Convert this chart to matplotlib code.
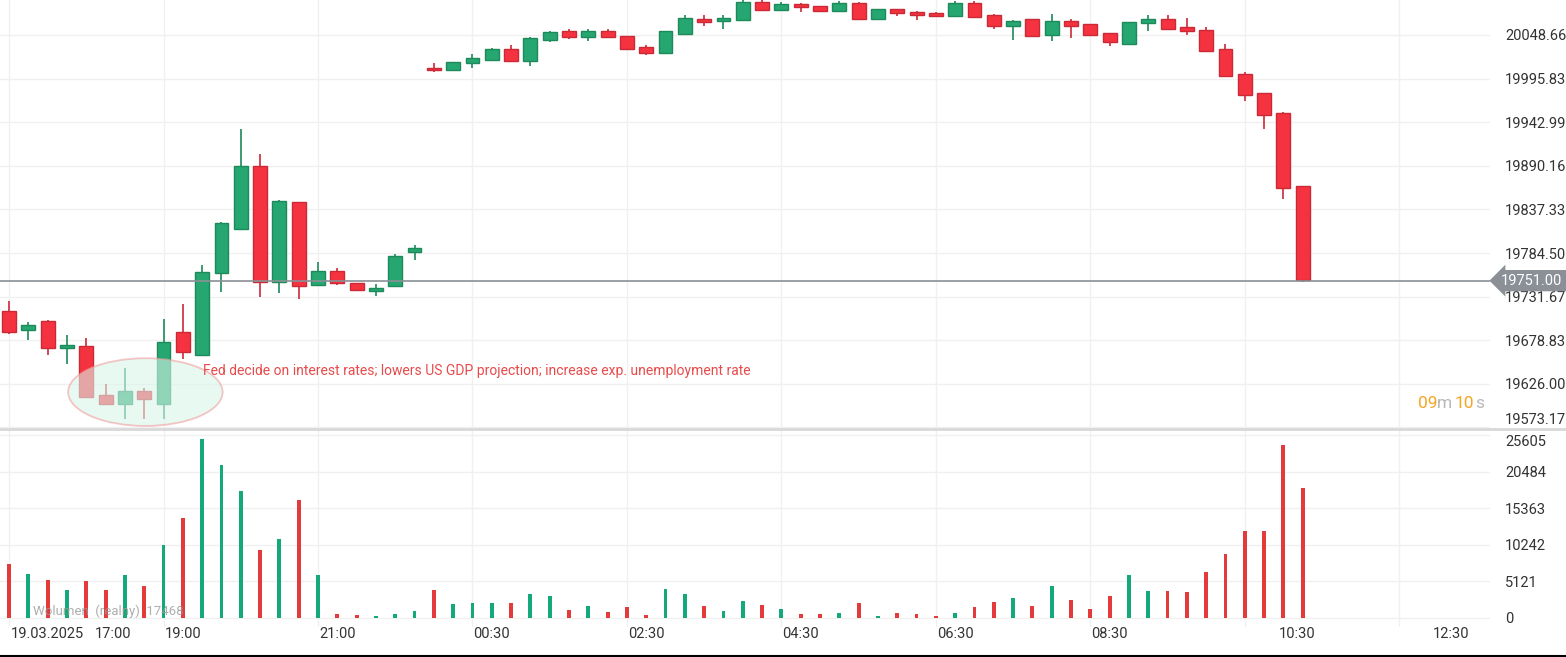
import numpy as np
import matplotlib
matplotlib.use("Agg")
import matplotlib.pyplot as plt
from matplotlib.patches import Ellipse, Rectangle

plt.rcParams["font.family"] = ["Roboto", "DejaVu Sans"]

# =========================
# Data (15 min candles, 19.03.2025 16:45 -> 20.03.2025 10:45)
# =========================
opens = [19714, 19691, 19702, 19669, 19672, 19612, 19601, 19617, 19601, 19689,
         19661, 19760, 19814, 19890, 19749, 19846, 19746, 19763, 19748, 19738,
         19744, 19786, 20009, 20006, 20015, 20018, 20032, 20017, 20043, 20053,
         20046, 20053, 20047, 20034, 20027, 20050, 20068, 20066, 20067, 20089,
         20079, 20086, 20084, 20078, 20087, 20068, 20080, 20076, 20075, 20072,
         20087, 20073, 20059, 20068, 20049, 20066, 20062, 20051, 20038, 20063,
         20068, 20058, 20055, 20032, 20001, 19978, 19954, 19866]
closes = [19689, 19697, 19670, 19673, 19610, 19601, 19617, 19608, 19677, 19664,
          19761, 19821, 19890, 19749, 19847, 19744, 19763, 19748, 19740, 19742,
          19781, 19790, 20006, 20016, 20021, 20032, 20017, 20045, 20052, 20046,
          20053, 20046, 20032, 20027, 20053, 20069, 20064, 20069, 20089, 20079,
          20086, 20082, 20078, 20087, 20068, 20080, 20075, 20073, 20072, 20087,
          20070, 20059, 20066, 20047, 20066, 20059, 20049, 20040, 20064, 20068,
          20056, 20053, 20029, 19999, 19976, 19952, 19863, 19752]
highs = [19726, 19701, 19703, 19685, 19681, 19626, 19645, 19621, 19704, 19723,
         19770, 19822, 19935, 19904, 19849, 19846, 19774, 19766, 19748, 19747,
         19783, 19794, 20015, 20016, 20026, 20033, 20036, 20046, 20053, 20056,
         20056, 20056, 20047, 20036, 20053, 20073, 20073, 20073, 20091, 20091,
         20089, 20087, 20084, 20090, 20089, 20080, 20080, 20078, 20076, 20090,
         20090, 20074, 20067, 20068, 20074, 20068, 20062, 20051, 20064, 20073,
         20073, 20069, 20058, 20038, 20004, 19978, 19955, 19866]
lows = [19686, 19679, 19661, 19650, 19609, 19600, 19584, 19583, 19583, 19656,
        19661, 19737, 19814, 19731, 19736, 19729, 19746, 19746, 19738, 19733,
        19744, 19776, 20004, 20006, 20009, 20018, 20017, 20011, 20040, 20044,
        20041, 20046, 20032, 20024, 20027, 20049, 20059, 20056, 20067, 20079,
        20078, 20076, 20078, 20076, 20068, 20068, 20072, 20067, 20070, 20072,
        20070, 20056, 20043, 20047, 20041, 20045, 20047, 20035, 20038, 20053,
        20056, 20049, 20029, 19999, 19969, 19935, 19850, 19749]
volumes = [7540, 6120, 5270, 3840, 5120, 3840, 5980, 4410, 10240, 13950,
           25040, 21350, 17790, 9530, 11100, 16500, 5980, 600, 400, 300,
           500, 900, 3840, 2000, 2100, 2100, 2100, 3300, 3000, 1140,
           1700, 850, 1560, 400, 4100, 3300, 1700, 1000, 2400, 1850,
           1280, 570, 570, 700, 2130, 300, 700, 570, 300, 700,
           1560, 2280, 2850, 1700, 4410, 2560, 1280, 3000, 5980, 3700,
           3700, 3560, 6400, 8960, 12100, 12100, 24200, 18200]

price_ticks = [19573.17, 19626.00, 19678.83, 19731.67, 19784.50, 19837.33,
               19890.16, 19942.99, 19995.83, 20048.66]
volume_ticks = [0, 5121, 10242, 15363, 20484, 25605]
time_labels = ["19.03.2025", "17:00", "19:00", "21:00", "00:30", "02:30",
               "04:30", "06:30", "08:30", "10:30", "12:30"]
time_label_pos = [1.97, 5.4, 9.0, 17.0, 25.0, 33.0, 41.0, 49.0, 57.0, 66.7, 74.7]
last_price = 19751.00
volume_last = 17468

GREEN = "#26a671"
GREEN_EDGE = "#1d8a5c"
RED = "#f5323f"
RED_EDGE = "#c92a36"
VOL_GREEN = "#14a97a"
VOL_RED = "#e33b3b"
GRID = "#f0f0f0"
TXT = "#333333"

W, H = 1566, 657
fig = plt.figure(figsize=(W / 100, H / 100), dpi=100)
ax = fig.add_axes([0, 1 - 428 / H, 1490 / W, 428 / H])
axv = fig.add_axes([0, 1 - 627 / H, 1490 / W, 199 / H])

xmin, xmax = -0.47, 76.7
n = len(opens)
idx = np.arange(n)

for a in (ax, axv):
    a.set_xlim(xmin, xmax)
    for s in a.spines.values():
        s.set_visible(False)
    a.set_xticks([])
    a.tick_params(axis="y", length=0, labelsize=10.5, labelcolor=TXT, pad=11)
    a.yaxis.tick_right()
    for gx in range(0, 80, 8):
        a.axvline(gx, color=GRID, lw=1, zorder=0)

# candles
ax.set_ylim(19572.5, 20091)
for i in idx:
    up = closes[i] >= opens[i]
    fc = GREEN if up else RED
    ec = GREEN_EDGE if up else RED_EDGE
    ax.vlines(i, lows[i], highs[i], color=ec, lw=1.2, zorder=2)
    lo, hi = min(opens[i], closes[i]), max(opens[i], closes[i])
    ax.add_patch(Rectangle((i - 0.36, lo), 0.72, max(hi - lo, 1.5),
                           facecolor=fc, edgecolor=ec, lw=1, zorder=3))
ax.set_yticks(price_ticks)
ax.set_yticklabels([f"{t:.2f}" for t in price_ticks])
ax.get_yticklabels()[0].set_va("bottom")
for t in price_ticks:
    ax.axhline(t, color=GRID, lw=1, zorder=0)

# last price line + tag
ax.axhline(last_price, color="#8a9096", lw=1.2, zorder=4)
ax.annotate(f"{last_price:.2f}", xy=(1.0, last_price), xycoords=("axes fraction", "data"),
            xytext=(8, 0), textcoords="offset points", ha="left", va="center",
            fontsize=10.5, color="white", annotation_clip=False,
            bbox=dict(boxstyle="larrow,pad=0.25", fc="#8a9096", ec="none"))

# Fed annotation
ell = Ellipse((7.06, 19616), 8.0, 82, facecolor="#d9f5ea", edgecolor="#f0a0a0",
              alpha=0.6, lw=1.3, zorder=5)
ax.add_patch(ell)
ax.text(10.05, 19641.5, "Fed decide on interest rates; lowers US GDP projection; "
        "increase exp. unemployment rate", color="#e84a4a", fontsize=10,
        ha="left", va="center", zorder=6)

# countdown
fig.text(1418 / W, 1 - 403 / H, "09", color="#f5a623", fontsize=12.5, va="center")
fig.text(1437 / W, 1 - 403 / H, "m", color="#b8b8b8", fontsize=12.5, va="center")
fig.text(1455 / W, 1 - 403 / H, "10", color="#f5a623", fontsize=12.5, va="center")
fig.text(1475 / W, 1 - 403 / H, "s", color="#b8b8b8", fontsize=12.5, va="center")

# volume
axv.set_ylim(-1280, 26600)
vcolors = [VOL_GREEN if closes[i] >= opens[i] else VOL_RED for i in idx]
axv.bar(idx, volumes, width=0.2, color=vcolors, zorder=2)
axv.set_yticks(volume_ticks)
axv.set_yticklabels([str(t) for t in volume_ticks])
axv.get_yticklabels()[-1].set_va("top")
for t in volume_ticks:
    axv.axhline(t, color=GRID, lw=1, zorder=0)
axv.text(0.022, 0.06, f"Wolumen  (realny)  {volume_last}", transform=axv.transAxes,
         color="#9a9a9a", fontsize=9.5, alpha=0.8, zorder=5)

# pane separator
fig.add_artist(plt.Line2D([0, 1], [1 - 428.5 / H] * 2, color="#d8d8d8", lw=2))
fig.add_artist(plt.Line2D([0, 1], [1 - 655.5 / H] * 2, color="black", lw=1.5))

# time axis labels
for lab, pos in zip(time_labels, time_label_pos):
    xf = (pos - xmin) / (xmax - xmin) * (1490 / W)
    fig.text(xf, 1 - 634 / H, lab, ha="center", va="center", fontsize=10.5, color=TXT)

fig.savefig("out.png", dpi=100)
